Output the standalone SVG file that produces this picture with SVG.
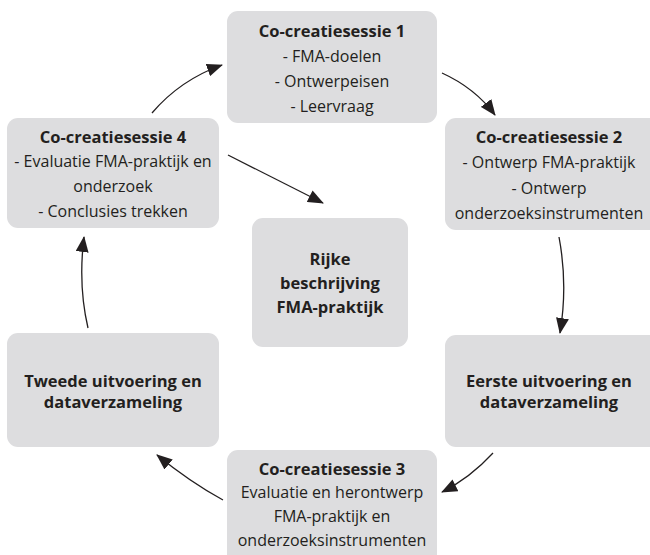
<svg xmlns="http://www.w3.org/2000/svg" width="650" height="555" viewBox="0 0 650 555">
<style>
.box{fill:#dddddf;}
text{font-family:"Open Sans","Noto Sans",sans-serif;font-size:16px;fill:#231f20;text-anchor:middle;}
.b{font-weight:bold;font-size:16.5px;}
.c{fill:none;stroke:#231f20;stroke-width:1.3;}
</style>
<defs>
<marker id="ah" viewBox="0 0 16 13" refX="15" refY="6.5" markerWidth="16" markerHeight="13" markerUnits="userSpaceOnUse" orient="auto">
<path d="M0,0 L16,6.5 L0,13 Z" fill="#231f20"/>
</marker>
</defs>
<rect width="650" height="555" fill="#ffffff"/>
<g id="n1">
<rect class="box" x="227" y="11" width="210" height="112" rx="11"/>
<text class="b" x="332" y="37">Co-creatiesessie 1</text>
<text x="332" y="62">- FMA-doelen</text>
<text x="332" y="87">- Ontwerpeisen</text>
<text x="332" y="112">- Leervraag</text>
</g>
<g id="n2">
<rect class="box" x="445" y="118" width="215" height="112" rx="11"/>
<text class="b" x="549" y="143">Co-creatiesessie 2</text>
<text x="549" y="168">- Ontwerp FMA-praktijk</text>
<text x="549" y="194">- Ontwerp</text>
<text x="549" y="219">onderzoeksinstrumenten</text>
</g>
<g id="n3">
<rect class="box" x="445" y="335" width="215" height="112" rx="11"/>
<text class="b" x="549" y="387">Eerste uitvoering en</text>
<text class="b" x="549" y="408">dataverzameling</text>
</g>
<g id="n4">
<rect class="box" x="227" y="450" width="210" height="115" rx="11"/>
<text class="b" x="332" y="475">Co-creatiesessie 3</text>
<text x="332" y="498">Evaluatie en herontwerp</text>
<text x="332" y="522">FMA-praktijk en</text>
<text x="332" y="546">onderzoeksinstrumenten</text>
</g>
<g id="n5">
<rect class="box" x="7" y="333" width="212" height="114" rx="11"/>
<text class="b" x="113" y="387">Tweede uitvoering en</text>
<text class="b" x="113" y="408">dataverzameling</text>
</g>
<g id="n6">
<rect class="box" x="7" y="118" width="212" height="110" rx="11"/>
<text class="b" x="113" y="143">Co-creatiesessie 4</text>
<text x="113" y="167">- Evaluatie FMA-praktijk en</text>
<text x="113" y="192">onderzoek</text>
<text x="113" y="217">- Conclusies trekken</text>
</g>
<g id="n7">
<rect class="box" x="252" y="218" width="156" height="129" rx="11"/>
<text class="b" x="330" y="265">Rijke</text>
<text class="b" x="330" y="289">beschrijving</text>
<text class="b" x="330" y="313">FMA-praktijk</text>
</g>
<g id="connectors">
<path class="c" d="M152,113 Q180,80 222,65" marker-end="url(#ah)"/>
<path class="c" d="M442,73 Q475,88 495,115" marker-end="url(#ah)"/>
<path class="c" d="M559,237 Q568,285 560,333" marker-end="url(#ah)"/>
<path class="c" d="M493,453 Q470,478 442,492" marker-end="url(#ah)"/>
<path class="c" d="M223,500 Q190,482 157,455" marker-end="url(#ah)"/>
<path class="c" d="M88,328 Q78,285 84,237" marker-end="url(#ah)"/>
<path class="c" d="M228,155 L323,203" marker-end="url(#ah)"/>
</g>
</svg>
